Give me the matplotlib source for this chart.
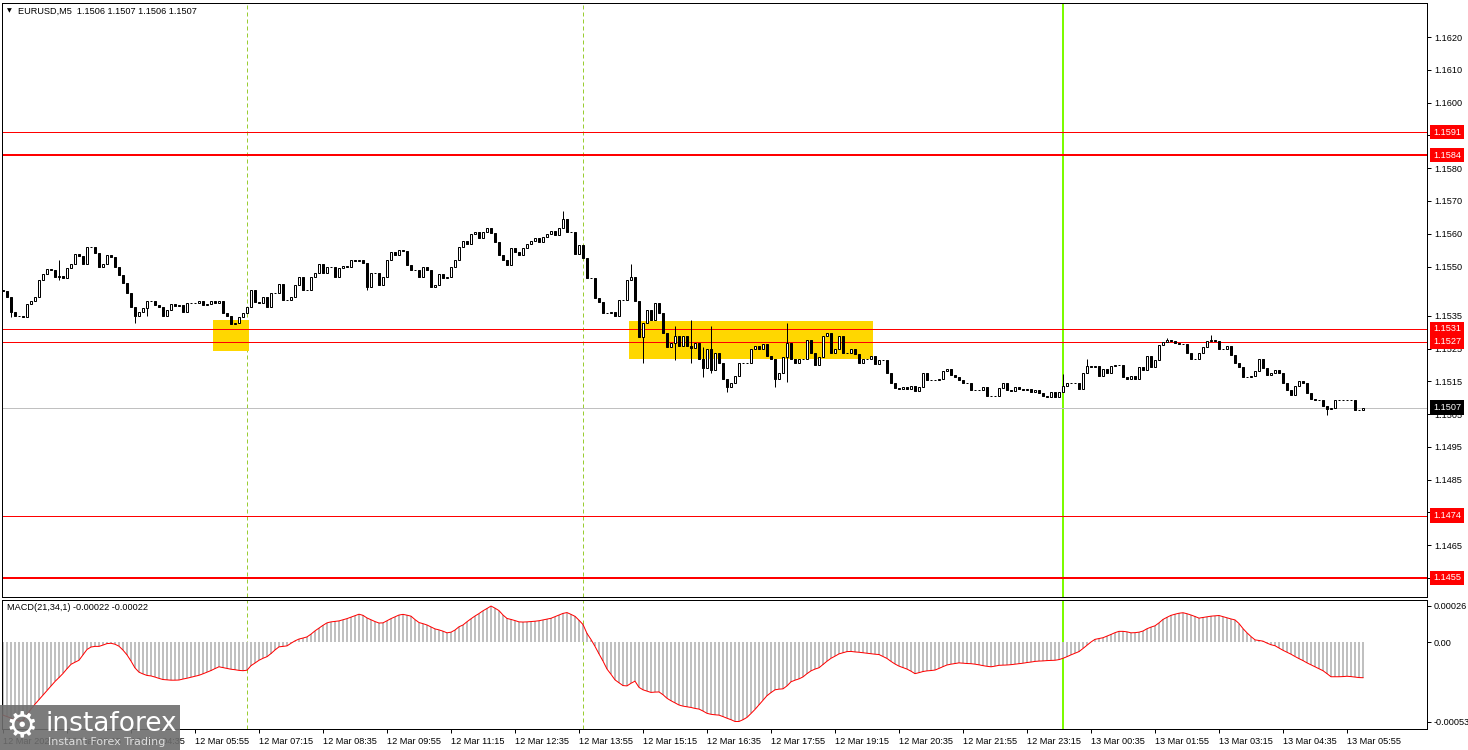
import numpy as np
import matplotlib
matplotlib.use('Agg')
import matplotlib.pyplot as plt
from matplotlib.patches import Rectangle

W, H = 1468, 750

# M5 closes, bar 0 = 12 Mar 01:55 (open of each bar = previous close)
first_open = 1.15428
close_prices = [
    1.15425, 1.15407, 1.15361, 1.15349, 1.15349, 1.15346, 1.15386, 1.15395, 1.15407, 1.15459,
    1.15477, 1.15493, 1.15490, 1.15468, 1.15471, 1.15465, 1.15496, 1.15508, 1.15538, 1.15532,
    1.15508, 1.15560, 1.15560, 1.15541, 1.15499, 1.15508, 1.15535, 1.15529, 1.15499, 1.15474,
    1.15450, 1.15419, 1.15377, 1.15349, 1.15361, 1.15374, 1.15395, 1.15395, 1.15383, 1.15377,
    1.15349, 1.15368, 1.15386, 1.15380, 1.15383, 1.15361, 1.15389, 1.15389, 1.15389, 1.15395,
    1.15383, 1.15386, 1.15395, 1.15389, 1.15395, 1.15358, 1.15349, 1.15325, 1.15328, 1.15346,
    1.15358, 1.15377, 1.15429, 1.15392, 1.15389, 1.15407, 1.15377, 1.15419, 1.15419, 1.15447,
    1.15398, 1.15398, 1.15407, 1.15444, 1.15468, 1.15429, 1.15429, 1.15468, 1.15480, 1.15508,
    1.15480, 1.15499, 1.15499, 1.15468, 1.15496, 1.15502, 1.15499, 1.15520, 1.15517, 1.15520,
    1.15511, 1.15438, 1.15480, 1.15480, 1.15444, 1.15468, 1.15520, 1.15544, 1.15535, 1.15550,
    1.15547, 1.15505, 1.15490, 1.15490, 1.15468, 1.15499, 1.15490, 1.15438, 1.15444, 1.15477,
    1.15465, 1.15468, 1.15499, 1.15520, 1.15560, 1.15578, 1.15569, 1.15599, 1.15605, 1.15587,
    1.15605, 1.15618, 1.15602, 1.15575, 1.15535, 1.15520, 1.15505, 1.15557, 1.15544, 1.15535,
    1.15557, 1.15569, 1.15578, 1.15587, 1.15575, 1.15590, 1.15599, 1.15608, 1.15596, 1.15618,
    1.15645, 1.15605, 1.15605, 1.15538, 1.15566, 1.15526, 1.15465, 1.15465, 1.15404, 1.15392,
    1.15358, 1.15358, 1.15361, 1.15349, 1.15398, 1.15398, 1.15459, 1.15468, 1.15395, 1.15285,
    1.15328, 1.15368, 1.15337, 1.15389, 1.15358, 1.15297, 1.15255, 1.15267, 1.15288, 1.15258,
    1.15288, 1.15258, 1.15252, 1.15267, 1.15218, 1.15191, 1.15249, 1.15185, 1.15236, 1.15206,
    1.15157, 1.15133, 1.15145, 1.15166, 1.15206, 1.15206, 1.15206, 1.15249, 1.15258, 1.15249,
    1.15264, 1.15227, 1.15218, 1.15157, 1.15175, 1.15224, 1.15267, 1.15218, 1.15206, 1.15218,
    1.15218, 1.15276, 1.15236, 1.15200, 1.15224, 1.15288, 1.15297, 1.15236, 1.15249, 1.15288,
    1.15236, 1.15236, 1.15249, 1.15233, 1.15206, 1.15218, 1.15218, 1.15227, 1.15203, 1.15215,
    1.15215, 1.15175, 1.15145, 1.15130, 1.15127, 1.15133, 1.15127, 1.15136, 1.15121, 1.15133,
    1.15175, 1.15154, 1.15154, 1.15154, 1.15157, 1.15181, 1.15188, 1.15169, 1.15163, 1.15154,
    1.15145, 1.15145, 1.15124, 1.15124, 1.15124, 1.15133, 1.15105, 1.15105, 1.15105, 1.15130,
    1.15145, 1.15124, 1.15121, 1.15133, 1.15127, 1.15124, 1.15127, 1.15117, 1.15124, 1.15114,
    1.15105, 1.15102, 1.15117, 1.15102, 1.15117, 1.15136, 1.15145, 1.15145, 1.15145, 1.15127,
    1.15175, 1.15197, 1.15194, 1.15197, 1.15166, 1.15188, 1.15175, 1.15197, 1.15200, 1.15200,
    1.15163, 1.15157, 1.15166, 1.15157, 1.15194, 1.15185, 1.15227, 1.15194, 1.15215, 1.15261,
    1.15270, 1.15276, 1.15273, 1.15267, 1.15264, 1.15264, 1.15236, 1.15218, 1.15218, 1.15236,
    1.15255, 1.15273, 1.15276, 1.15273, 1.15249, 1.15249, 1.15258, 1.15230, 1.15206, 1.15194,
    1.15163, 1.15163, 1.15166, 1.15181, 1.15218, 1.15191, 1.15169, 1.15175, 1.15185, 1.15175,
    1.15145, 1.15124, 1.15108, 1.15136, 1.15151, 1.15145, 1.15114, 1.15096, 1.15093, 1.15093,
    1.15075, 1.15066, 1.15069, 1.15093, 1.15093, 1.15093, 1.15093, 1.15093, 1.15063, 1.15063,
    1.15070,
]

# wicks that stick out clearly beyond the bodies
high_marks = {14: 1.15520, 140: 1.15670, 157: 1.15508, 168: 1.15319, 172: 1.15337,
              175: 1.15255, 177: 1.15319, 196: 1.15328, 265: 1.15171, 271: 1.15218,
              291: 1.15281, 302: 1.15290}
low_marks = {2: 1.15346, 14: 1.15459, 33: 1.15328, 36: 1.15349, 91: 1.15429, 160: 1.15206,
             168: 1.15215, 172: 1.15206, 175: 1.15163, 177: 1.15175, 181: 1.15117,
             193: 1.15133, 196: 1.15148, 331: 1.15047}

# MACD(21,34,1) main line, in 1e-5
macd_vals = [
    -44.5, -45.4, -46.3, -47.2, -48.1, -48.0, -44.2, -40.8, -37.8, -35.0,
    -32.1, -29.3, -26.5, -23.9, -21.5, -19.0, -16.1, -13.4, -12.1, -10.9,
    -7.6, -4.3, -2.8, -2.4, -2.4, -1.6, -0.7, -0.5, -1.1, -2.3,
    -4.7, -7.6, -11.4, -15.6, -18.2, -19.3, -20.2, -20.5, -21.2, -22.0,
    -22.7, -22.9, -23.1, -23.1, -23.0, -22.4, -21.9, -21.3, -20.7, -20.1,
    -19.2, -18.2, -17.2, -16.0, -14.9, -15.4, -15.9, -16.4, -16.7, -17.1,
    -17.3, -17.0, -14.2, -12.6, -10.9, -9.7, -8.7, -6.8, -4.6, -2.7,
    -2.4, -2.1, -0.5, 1.0, 2.1, 2.7, 3.4, 5.1, 7.1, 8.8,
    10.5, 12.0, 12.6, 12.9, 13.2, 13.9, 14.6, 15.5, 16.4, 17.3,
    16.6, 15.0, 13.9, 12.8, 11.9, 12.0, 13.3, 14.6, 15.7, 16.8,
    17.2, 16.7, 16.1, 14.0, 12.2, 11.5, 10.7, 9.5, 8.3, 7.7,
    6.9, 5.9, 6.3, 7.6, 9.6, 10.7, 12.7, 14.5, 16.2, 17.7,
    19.4, 20.8, 22.3, 21.0, 19.5, 16.8, 14.7, 14.1, 13.4, 12.6,
    12.5, 12.6, 12.8, 13.0, 13.3, 13.8, 14.3, 14.8, 15.8, 16.8,
    17.8, 18.3, 17.2, 16.0, 13.6, 11.0, 5.5, 1.8, -2.4, -7.0,
    -11.4, -16.3, -19.5, -22.9, -24.7, -26.4, -26.6, -25.0, -23.7, -27.5,
    -29.0, -29.8, -30.6, -30.4, -30.3, -32.0, -34.2, -35.7, -37.0, -38.3,
    -39.0, -39.4, -39.8, -40.4, -40.8, -42.0, -43.4, -44.0, -44.3, -44.5,
    -45.4, -46.4, -47.3, -48.4, -48.4, -47.3, -45.9, -43.5, -41.0, -38.2,
    -35.4, -32.6, -30.7, -29.0, -28.6, -28.4, -26.6, -24.1, -23.1, -22.3,
    -21.1, -19.1, -17.4, -16.3, -15.5, -13.5, -11.5, -9.7, -8.4, -7.0,
    -6.3, -5.6, -5.5, -5.8, -6.0, -6.3, -6.6, -6.9, -7.2, -7.4,
    -8.6, -9.8, -11.6, -13.2, -14.5, -15.4, -16.3, -17.6, -19.1, -18.5,
    -17.8, -17.4, -17.2, -16.9, -15.9, -14.8, -13.8, -13.3, -12.9, -12.5,
    -12.7, -12.9, -13.0, -13.3, -13.7, -14.2, -14.6, -14.9, -14.5, -14.0,
    -13.9, -13.8, -13.6, -13.3, -13.0, -12.7, -12.3, -12.0, -11.6, -11.4,
    -11.3, -11.1, -11.0, -10.9, -10.5, -9.7, -8.7, -7.6, -6.6, -5.6,
    -3.7, -1.7, 0.3, 1.9, 2.4, 2.9, 3.9, 4.9, 6.0, 6.8,
    6.8, 6.5, 5.9, 6.0, 6.3, 7.0, 8.4, 9.4, 10.2, 12.0,
    14.1, 15.4, 16.6, 17.3, 17.9, 18.2, 17.6, 16.8, 15.9, 14.9,
    15.3, 15.7, 16.1, 16.3, 16.5, 15.8, 15.1, 14.4, 13.8, 11.6,
    8.5, 5.9, 3.6, 1.6, 1.2, 0.8, -0.4, -1.4, -2.0, -3.4,
    -4.8, -6.0, -7.2, -8.6, -9.9, -11.1, -12.5, -13.7, -14.9, -16.1,
    -17.3, -19.1, -21.0, -21.0, -21.0, -20.9, -20.7, -20.9, -21.2, -21.5,
    -21.6,
]

levels = [1.1591, 1.1584, 1.1531, 1.1527, 1.1474, 1.1455]
level_thick = [False, True, False, False, False, True]
last_price = 1.1507
# (first bar, last bar, low, high)
zones = [(53, 62, 1.15242, 1.15337), (157, 218, 1.15218, 1.15334)]
session_bars = [61, 145]
day_bar = 265

price_ticks = [1.1620, 1.1610, 1.1600, 1.1590, 1.1580, 1.1570, 1.1560, 1.1550, 1.1535,
               1.1525, 1.1515, 1.1505, 1.1495, 1.1485, 1.1475, 1.1465, 1.1455]
time_labels = ['12 Mar 2026', '12 Mar 03:15', '12 Mar 04:35', '12 Mar 05:55', '12 Mar 07:15',
               '12 Mar 08:35', '12 Mar 09:55', '12 Mar 11:15', '12 Mar 12:35', '12 Mar 13:55',
               '12 Mar 15:15', '12 Mar 16:35', '12 Mar 17:55', '12 Mar 19:15', '12 Mar 20:35',
               '12 Mar 21:55', '12 Mar 23:15', '13 Mar 00:35', '13 Mar 01:55', '13 Mar 03:15',
               '13 Mar 04:35', '13 Mar 05:55']

plt.rcParams['font.family'] = ['Liberation Sans', 'DejaVu Sans']
FS = 6.6
px = 0.72  # one pixel in points

fig = plt.figure(figsize=(W / 100, H / 100), dpi=100)
ax = fig.add_axes([2 / W, 1 - 597 / H, 1425 / W, 594 / H])
ax2 = fig.add_axes([2 / W, 1 - 729 / H, 1425 / W, 129 / H])

closes = np.array(close_prices)
opens = np.concatenate([[first_open], closes[:-1]])
idx = np.arange(len(closes))
highs = np.maximum(opens, closes)
lows = np.minimum(opens, closes)
for k, v in high_marks.items():
    highs[k] = v
for k, v in low_marks.items():
    lows[k] = v
up = closes >= opens

# zones and levels
for x0, x1, lo, hi in zones:
    ax.add_patch(Rectangle((x0 - 0.5, lo), x1 - x0, hi - lo, facecolor='#ffd700', edgecolor='none', zorder=1))
for lv, thick in zip(levels, level_thick):
    ax.axhline(lv, color='#ff0000', lw=2 * px if thick else px, zorder=2)
ax.axhline(last_price, color='#c0c0c0', lw=px, zorder=2)

for a in (ax, ax2):
    for b in session_bars:
        a.axvline(b, color='#9acd32', lw=px, dashes=(4, 3), zorder=0.5)
    a.axvline(day_bar, color='#7cfc00', lw=2 * px, zorder=0.5)

# candles
ax.vlines(idx, lows, highs, color='black', lw=px, zorder=3)
ax.bar(idx[up], (closes - opens)[up], bottom=opens[up], width=0.6, facecolor='white',
       edgecolor='black', lw=px, zorder=4)
ax.bar(idx[~up], (closes - opens)[~up], bottom=opens[~up], width=0.6, facecolor='black',
       edgecolor='black', lw=px, zorder=4)

ax.set_xlim(-0.25, 356)
ax.set_ylim(1.14492, 1.16304)
ax.set_xticks([])
ax.yaxis.tick_right()
ax.set_yticks(price_ticks)
ax.set_yticklabels(['%.4f' % t for t in price_ticks])
ax.tick_params(axis='y', length=3, width=px, pad=2, labelsize=FS, colors='black')

# right-hand price boxes
for lv in levels:
    ax.text(1.0042, lv, '%.4f' % lv, transform=ax.get_yaxis_transform(), fontsize=FS, color='white',
            va='center', ha='left', zorder=10, clip_on=False,
            bbox=dict(boxstyle='square,pad=0.3', facecolor='#ff0000', edgecolor='none'))
ax.text(1.0042, last_price, '%.4f' % last_price, transform=ax.get_yaxis_transform(), fontsize=FS,
        color='white', va='center', ha='left', zorder=10, clip_on=False,
        bbox=dict(boxstyle='square,pad=0.3', facecolor='black', edgecolor='none'))

# MACD panel
macd = np.array(macd_vals) * 1e-5
ax2.bar(idx, macd, width=0.55, color='#c0c0c0', zorder=2)
ax2.plot(idx, macd, color='#ff0000', lw=px, zorder=3)
ax2.set_xlim(-0.25, 356)
ax2.set_ylim(-0.00053, 0.00026)
ax2.yaxis.tick_right()
ax2.set_yticks([0.000224, 0.0, -0.000486])
ax2.set_yticklabels(['0.00026', '0.00', '-0.00053'])
ax2.tick_params(axis='y', length=3, width=px, pad=2, labelsize=FS)
ax2.set_xticks(np.arange(len(time_labels)) * 16)
ax2.set_xticklabels(time_labels, ha='left')
ax2.tick_params(axis='x', length=3, width=px, pad=3, labelsize=FS)

for a in (ax, ax2):
    for s in a.spines.values():
        s.set_linewidth(px)
        s.set_color('black')

# header texts
fig.text(7 / W, 1 - 11 / H, '\u25bc', fontsize=4.5, va='center', ha='left', family='DejaVu Sans')
fig.text(18 / W, 1 - 11 / H, 'EURUSD,M5  1.1506 1.1507 1.1506 1.1507', fontsize=FS, va='center', ha='left')
fig.text(7 / W, 1 - 608 / H, 'MACD(21,34,1) -0.00022 -0.00022', fontsize=FS, va='center', ha='left')

# watermark
fig.patches.append(Rectangle((0, 0), 180 / W, 45 / H, transform=fig.transFigure,
                             facecolor='#6e6e6e', edgecolor='none', alpha=0.9, zorder=20))
fig.text(22 / W, 1 - 726 / H, '\u2699', fontsize=26, color='white', ha='center', va='center',
         family='DejaVu Sans', zorder=21)
fig.text(45 / W, 1 - 724 / H, 'instaforex', fontsize=19, color='white', ha='left', va='center',
         family='DejaVu Sans', zorder=21)
fig.text(48 / W, 1 - 742 / H, 'Instant Forex Trading', fontsize=8, color='#dddddd', ha='left',
         va='center', family='DejaVu Sans', zorder=21)

fig.savefig('out.png', dpi=100)
